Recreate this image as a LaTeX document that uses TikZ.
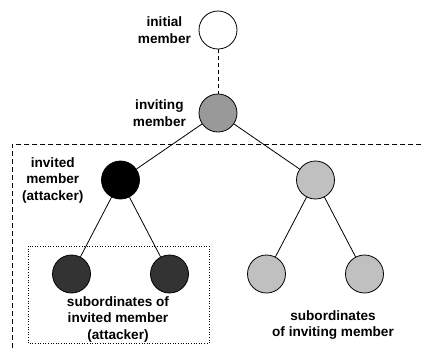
\documentclass[tikz,border=0pt]{standalone}
\usepackage{fontspec}
\setmainfont{Liberation Sans}
\usetikzlibrary{positioning}
\definecolor{invitinggray}{HTML}{999999}
\definecolor{attackgray}{HTML}{333333}
\definecolor{othergray}{HTML}{C0C0C0}

\begin{document}
\begin{tikzpicture}[x=1pt,y=1pt,level distance=83pt,line width=0.8pt]
\tikzstyle{member}=[circle,draw,solid,minimum size=38pt,inner sep=0pt]
\tikzstyle{lbl}=[font=\bfseries\fontsize{13.6}{16.5}\selectfont,align=center]
\tikzstyle{level 1}=[edge from parent/.style={draw,dash pattern=on 4pt off 3pt}]
\tikzstyle{level 2}=[level distance=67pt,sibling distance=195pt,edge from parent/.style={draw,solid}]
\tikzstyle{level 3}=[level distance=94pt,sibling distance=98pt]
\useasboundingbox (0,0) rectangle (421,-349);

\node[member,fill=white] (init) at (218,-30) {}
  child { node[member,fill=invitinggray] (inviting) {}
    child { node[member,fill=black] (invited) {}
      child {node[member,fill=attackgray] (sub1) {}}
      child {node[member,fill=attackgray] (sub2) {}}
    }
    child { node[member,fill=othergray] (other) {}
      child {node[member,fill=othergray] (sub3) {}}
      child {node[member,fill=othergray] (sub4) {}}
    }
  };

% labels
\node[lbl,left=4pt of init] (initlbl) {initial\\member};
\node[lbl,left=9pt of inviting] (invitinglbl) {inviting\\member};
\node[lbl,left=14pt of invited] (invitedlbl) {invited\\member\\(attacker)};
\node[lbl] (attsublbl) at (118,-319) {subordinates of\\invited member\\(attacker)};
\node[lbl] (othsublbl) at (333,-325) {subordinates\\of inviting member};

% boxes
\draw[dash pattern=on 5pt off 3pt] (421,-144) -- (12,-144) -- (12,-349);
\draw[line width=0.6pt,dotted] (28,-246) rectangle (209,-343);
\end{tikzpicture}
\end{document}
